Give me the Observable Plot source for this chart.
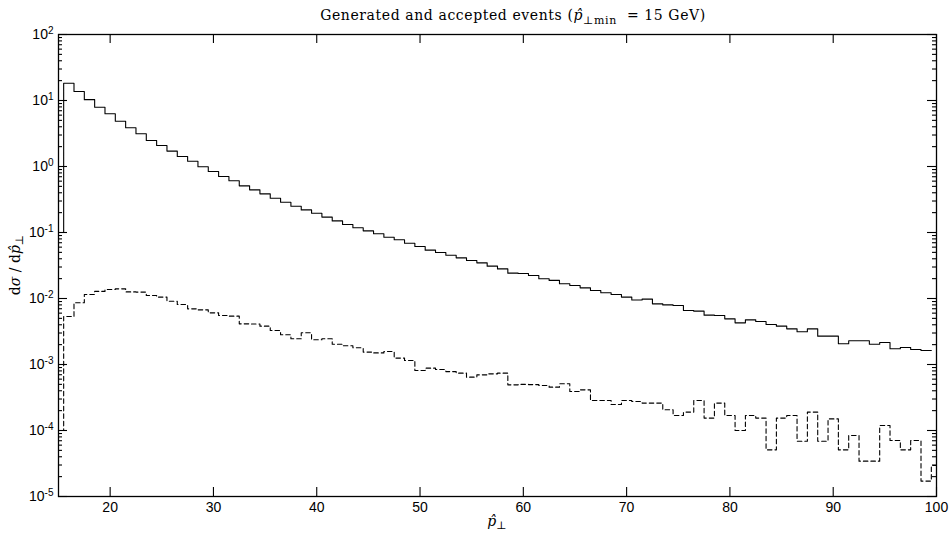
<!DOCTYPE html>
<html><head><meta charset="utf-8">
<script src="https://cdn.jsdelivr.net/npm/d3@7"></script>
<script src="https://cdn.jsdelivr.net/npm/@observablehq/plot@0.6"></script>
<style>
html,body{margin:0;padding:0;background:#fff;}
</style>
</head><body><div id="chart"></div>
<script>
// bin centres (GeV), 1 GeV wide bins
const ptGenerated = [15,16,17,18,19,20,21,22,23,24,25,26,27,28,29,30,31,32,33,34,35,36,37,38,39,40,41,42,43,44,45,46,47,48,49,50,51,52,53,54,55,56,57,58,59,60,61,62,63,64,65,66,67,68,69,70,71,72,73,74,75,76,77,78,79,80,81,82,83,84,85,86,87,88,89,90,91,92,93,94,95,96,97,98,99];
const generated = [0.1,18.3,13.7,10.3,7.9,6.3,4.86,3.86,3.13,2.48,2.08,1.71,1.42,1.20,0.99,0.84,0.705,0.607,0.509,0.443,0.385,0.331,0.288,0.25,0.22,0.196,0.171,0.150,0.132,0.118,0.106,0.0955,0.0849,0.0775,0.0689,0.0613,0.054,0.0498,0.0453,0.0413,0.0376,0.0347,0.0309,0.0281,0.0242,0.0239,0.0223,0.0199,0.0188,0.0167,0.0157,0.0145,0.0132,0.0122,0.0115,0.0105,0.0095,0.00977,0.0083,0.0080,0.00783,0.00658,0.00643,0.00559,0.00552,0.00492,0.00428,0.00475,0.00449,0.00404,0.00381,0.00347,0.00313,0.00347,0.00269,0.00269,0.00206,0.00229,0.00229,0.00203,0.00215,0.00173,0.00181,0.00169,0.00163];
const ptAccepted = [15,16,17,18,19,20,21,22,23,24,25,26,27,28,29,30,31,32,33,34,35,36,37,38,39,40,41,42,43,44,45,46,47,48,49,50,51,52,53,54,55,56,57,58,59,60,61,62,63,64,65,66,67,68,69,70,71,72,73,74,75,76,77,78,79,80,81,82,83,84,85,86,87,88,89,90,91,92,93,94,95,96,97,98,99,100];
const accepted = [1.0e-4,0.00534,0.00861,0.0115,0.0128,0.0137,0.0140,0.0126,0.0125,0.0111,0.0105,0.0091,0.0081,0.00697,0.00673,0.00606,0.00552,0.0054,0.00413,0.0041,0.00381,0.00327,0.00282,0.00245,0.00302,0.00237,0.00245,0.00203,0.00192,0.00179,0.00154,0.0015,0.00157,0.00125,0.00115,0.00081,0.00088,0.00084,0.00078,0.00074,0.000643,0.000697,0.000722,0.00074,0.000492,0.0005,0.000496,0.000481,0.000454,0.00051,0.00039,0.000413,0.000285,0.000285,0.000248,0.000285,0.000275,0.00026,0.00026,0.000206,0.000169,0.00019,0.000285,0.000154,0.00026,0.000169,0.0001,0.000169,0.000154,0.0000509,0.000154,0.000169,0.0000689,0.00019,0.0000689,0.00015,0.0000509,0.000084,0.0000343,0.0000343,0.000119,0.0000705,0.0000509,0.0000705,0.0000171,0.0000295];
const binWidth = 1;
const xTicks = [20,30,40,50,60,70,80,90,100];
const yDecades = [1e-5,1e-4,1e-3,1e-2,1e-1,1,10,100];
const yMinor = yDecades.slice(0,-1).flatMap(d => [2,3,4,5,6,7,8,9].map(m => m*d));

function stepRows(centers, values) {
  const rows = centers.map((c, i) => ({x: c - binWidth/2, y: values[i]}));
  rows.push({x: centers[centers.length-1] + binWidth/2, y: values[values.length-1]});
  return rows;
}

const W = 952, H = 534, mL = 58, mR = 16, mT = 34, mB = 38;
const plotW = W - mL - mR, plotH = H - mT - mB;
const major = 9, minor = 4;
const tickStyle = {stroke: "#000", strokeWidth: 1.1};

const chart = Plot.plot({
  width: W, height: H,
  marginLeft: mL, marginRight: mR, marginTop: mT, marginBottom: mB,
  style: {fontFamily: "'Liberation Sans', Arial, sans-serif", fontSize: "14px", color: "#000", background: "#fff"},
  x: {type: "linear", domain: [15, 100], label: null},
  y: {type: "log", domain: [1e-5, 100], label: null},
  marks: [
    Plot.line(stepRows(ptGenerated, generated), {x: "x", y: "y", curve: "step-after", stroke: "#000", strokeWidth: 1.1, clip: true}),
    Plot.line(stepRows(ptAccepted, accepted), {x: "x", y: "y", curve: "step-after", stroke: "#000", strokeWidth: 1.1, strokeDasharray: "4.5,3", clip: true}),
    // tick labels
    Plot.axisX({ticks: xTicks, anchor: "bottom", tickSize: 0, tickPadding: 6, tickFormat: d => String(d), label: null}),
    Plot.axisY({ticks: yDecades, anchor: "left", tickSize: 0, tickPadding: 5, tickFormat: d => "10^" + Math.round(Math.log10(d)), label: null}),
    // inward ticks on all four sides
    Plot.ruleX(xTicks, {x: d => d, insetTop: plotH - major, ...tickStyle}),
    Plot.ruleX(xTicks, {x: d => d, insetBottom: plotH - major, ...tickStyle}),
    Plot.ruleY(yDecades, {y: d => d, insetRight: plotW - major, ...tickStyle}),
    Plot.ruleY(yDecades, {y: d => d, insetLeft: plotW - major, ...tickStyle}),
    Plot.ruleY(yMinor, {y: d => d, insetRight: plotW - minor, ...tickStyle}),
    Plot.ruleY(yMinor, {y: d => d, insetLeft: plotW - minor, ...tickStyle}),
    Plot.frame({stroke: "#000", strokeWidth: 1.3})
  ]
});

const svg = d3.select(chart);
svg.selectAll('g[aria-label="y-axis tick label"] text').each(function() {
  const t = this.textContent;
  if (!t.includes("^")) return;
  const exp = t.split("^")[1];
  const s = d3.select(this);
  s.text(null);
  s.append("tspan").text("10");
  s.append("tspan").attr("dy", "-0.5em").attr("font-size", "10px").text(exp);
});

const serif = "'DejaVu Serif', 'Liberation Serif', serif";
// title
const title = svg.append("text").attr("x", 513).attr("y", 20).attr("text-anchor", "middle")
  .style("font-family", serif).style("font-size", "14px").style("letter-spacing", "0.6px").attr("fill", "#000");
title.append("tspan").text("Generated and accepted events (");
title.append("tspan").style("font-style", "italic").text("p̂");
title.append("tspan").attr("dy", "4").style("font-size", "11px").text("⊥min");
title.append("tspan").attr("dy", "-4").text("  = 15 GeV)");

// x label
const xl = svg.append("text").attr("x", 497).attr("y", 526).attr("text-anchor", "middle")
  .style("font-family", serif).style("font-size", "14px").attr("fill", "#000");
xl.append("tspan").style("font-style", "italic").text("p̂");
xl.append("tspan").attr("dy", "3").style("font-size", "11px").text("⊥");

// y label
const yl = svg.append("text").attr("transform", "translate(20,265) rotate(-90)").attr("text-anchor", "middle")
  .style("font-family", serif).style("font-size", "14px").attr("fill", "#000");
yl.append("tspan").text("d");
yl.append("tspan").style("font-style", "italic").text("σ");
yl.append("tspan").text(" / d");
yl.append("tspan").style("font-style", "italic").text("p̂");
yl.append("tspan").attr("dy", "3").style("font-size", "11px").text("⊥");

document.getElementById("chart").appendChild(chart);
</script>
</body></html>
